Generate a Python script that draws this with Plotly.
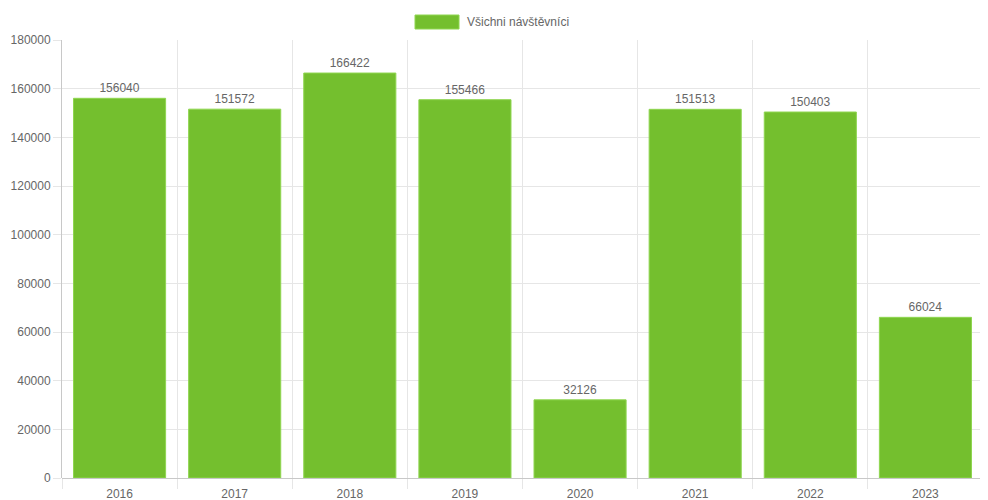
import plotly.graph_objects as go

years = ["2016", "2017", "2018", "2019", "2020", "2021", "2022", "2023"]
visitors = [156040, 151572, 166422, 155466, 32126, 151513, 150403, 66024]
series_name = "Všichni návštěvníci"
y_ticks = [0, 20000, 40000, 60000, 80000, 100000, 120000, 140000, 160000, 180000]

bar_color = "#74bf2e"
font = dict(family="Liberation Sans, Arial, Helvetica, sans-serif", size=12, color="#666666")

xs = list(range(len(years)))

fig = go.Figure()
fig.add_trace(go.Bar(
    x=xs, y=visitors, name=series_name,
    marker=dict(color=bar_color, line=dict(color="#8fd650", width=1)),
    width=0.8,
    text=[str(v) for v in visitors], textposition="outside",
    textfont=dict(family=font["family"], size=12, color="#666666"),
    cliponaxis=False, showlegend=False,
))

# page body has an 8px margin, so the figure is 980x492 placed at (8, 8)
fig.update_layout(
    width=980, height=492,
    margin=dict(l=54, r=5, t=32, b=22, autoexpand=False),
    plot_bgcolor="white", paper_bgcolor="white",
    font=font,
    bargap=0.2,
    xaxis=dict(
        range=[-0.5, len(years) - 0.5],
        tickmode="array", tickvals=xs, ticktext=years,
        showgrid=False, ticks="", showline=False, zeroline=False,
        tickfont=font, automargin=False, ticklabelstandoff=7,
        minor=dict(tickmode="linear", tick0=-0.5, dtick=1, showgrid=True,
                   gridcolor="#e6e6e6", gridwidth=1, ticks="outside",
                   ticklen=10, tickcolor="#e6e6e6"),
        fixedrange=True,
    ),
    yaxis=dict(
        range=[0, 180000], tickmode="array", tickvals=y_ticks,
        ticktext=[str(v) for v in y_ticks],
        showgrid=True, gridcolor="#e6e6e6", gridwidth=1,
        ticks="outside", ticklen=8, tickcolor="#e6e6e6",
        showline=True, linecolor="#c8c8c8", linewidth=1,
        zeroline=True, zerolinecolor="#c8c8c8", zerolinewidth=1,
        tickfont=font, automargin=False,
        fixedrange=True,
    ),
    shapes=[dict(type="rect", xref="paper", yref="paper",
                 x0=(415 - 62) / 921, x1=(459 - 62) / 921,
                 y0=(478 - 29) / 438, y1=(478 - 15) / 438,
                 fillcolor=bar_color, line=dict(color="#8fd650", width=1))],
    annotations=[dict(text=series_name, xref="paper", yref="paper",
                      x=(465 - 62) / 921, y=(478 - 22) / 438,
                      xanchor="left", yanchor="middle", showarrow=False,
                      font=dict(family=font["family"], size=12, color="#666666"))],
)

fig.write_html("out.html")
